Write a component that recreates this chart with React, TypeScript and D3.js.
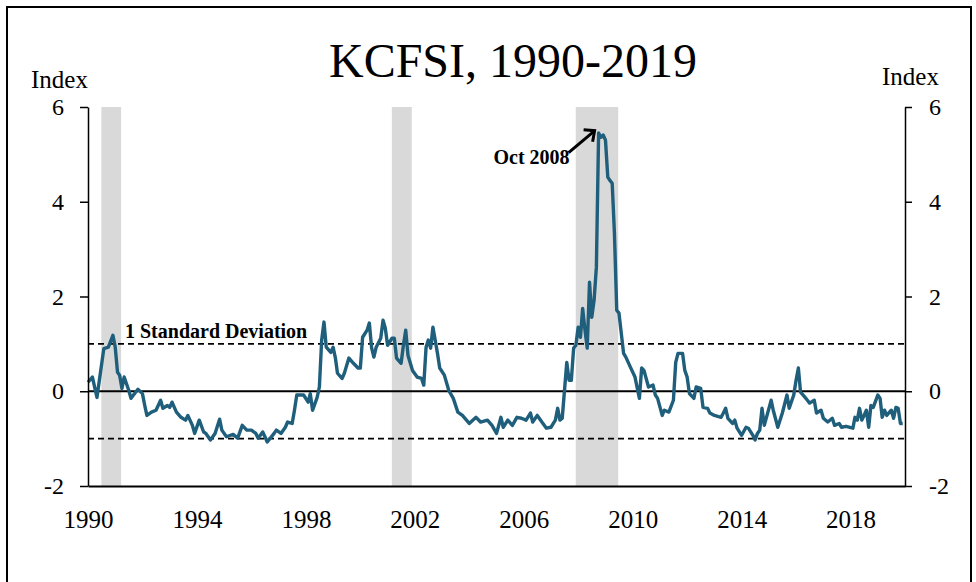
import { useRef, useEffect } from 'react';
import * as d3 from 'd3';

const months = [
  '1990-01', '1990-03', '1990-05', '1990-08', '1990-10', '1990-12', '1991-01', '1991-02', '1991-03', '1991-04',
  '1991-05', '1991-07', '1991-08', '1991-10', '1991-11', '1992-01', '1992-02', '1992-03', '1992-05', '1992-07',
  '1992-09', '1992-10', '1992-12', '1993-01', '1993-02', '1993-04', '1993-06', '1993-08', '1993-09', '1993-11',
  '1993-12', '1994-02', '1994-04', '1994-05', '1994-07', '1994-09', '1994-11', '1994-12', '1995-02', '1995-05',
  '1995-07', '1995-09', '1995-11', '1996-01', '1996-03', '1996-04', '1996-06', '1996-07', '1996-08', '1996-11',
  '1996-12', '1997-02', '1997-04', '1997-05', '1997-07', '1997-08', '1997-09', '1997-12', '1998-02', '1998-03',
  '1998-04', '1998-06', '1998-07', '1998-08', '1998-09', '1998-10', '1998-12', '1999-01', '1999-02', '1999-03',
  '1999-05', '1999-06', '1999-08', '1999-10', '1999-12', '2000-01', '2000-02', '2000-04', '2000-05', '2000-06',
  '2000-07', '2000-08', '2000-10', '2000-11', '2000-12', '2001-01', '2001-03', '2001-04', '2001-05', '2001-07',
  '2001-08', '2001-09', '2001-10', '2001-12', '2002-02', '2002-04', '2002-05', '2002-06', '2002-07', '2002-08',
  '2002-09', '2002-11', '2002-12', '2003-02', '2003-04', '2003-06', '2003-08', '2003-10', '2004-01', '2004-04',
  '2004-06', '2004-09', '2004-11', '2005-01', '2005-03', '2005-04', '2005-06', '2005-08', '2005-10', '2005-12',
  '2006-02', '2006-04', '2006-05', '2006-07', '2006-09', '2006-11', '2007-01', '2007-03', '2007-04', '2007-05',
  '2007-06', '2007-08', '2007-09', '2007-10', '2007-11', '2007-12', '2008-01', '2008-02', '2008-03', '2008-04',
  '2008-05', '2008-06', '2008-07', '2008-08', '2008-09', '2008-10', '2008-11', '2008-12', '2009-01', '2009-02',
  '2009-03', '2009-04', '2009-05', '2009-06', '2009-07', '2009-09', '2009-10', '2009-12', '2010-02', '2010-04',
  '2010-05', '2010-06', '2010-08', '2010-10', '2010-11', '2010-12', '2011-02', '2011-03', '2011-05', '2011-07',
  '2011-08', '2011-09', '2011-11', '2011-12', '2012-01', '2012-02', '2012-04', '2012-05', '2012-07', '2012-08',
  '2012-10', '2012-11', '2013-01', '2013-04', '2013-05', '2013-06', '2013-07', '2013-09', '2013-10', '2013-11',
  '2014-01', '2014-03', '2014-04', '2014-06', '2014-07', '2014-08', '2014-09', '2014-10', '2014-11', '2015-02',
  '2015-03', '2015-05', '2015-07', '2015-09', '2015-10', '2015-12', '2016-01', '2016-02', '2016-03', '2016-05',
  '2016-06', '2016-07', '2016-09', '2016-10', '2016-12', '2017-01', '2017-03', '2017-05', '2017-06', '2017-08',
  '2017-09', '2017-11', '2018-02', '2018-03', '2018-04', '2018-05', '2018-06', '2018-07', '2018-08', '2018-09',
  '2018-10', '2018-11', '2019-01', '2019-02', '2019-03', '2019-04', '2019-05', '2019-07', '2019-08', '2019-09',
  '2019-10', '2019-11', '2019-12',
];

const kcfsi = [
  0.19, 0.30, -0.13, 0.90, 0.93, 1.18, 0.93, 0.40, 0.34, 0.06,
  0.30, 0.02, -0.15, -0.02, 0.04, -0.05, -0.30, -0.51, -0.44, -0.40,
  -0.19, -0.36, -0.30, -0.34, -0.23, -0.44, -0.55, -0.61, -0.51, -0.72,
  -0.89, -0.61, -0.86, -0.89, -1.03, -0.89, -0.59, -0.82, -0.96, -0.91,
  -0.99, -0.72, -0.82, -0.82, -0.89, -0.99, -0.86, -0.96, -1.07, -0.89,
  -0.82, -0.89, -0.76, -0.65, -0.68, -0.40, -0.08, -0.08, -0.23, -0.05,
  -0.40, -0.13, 0.09, 1.08, 1.46, 0.93, 0.82, 0.93, 0.70, 0.38,
  0.27, 0.38, 0.70, 0.59, 0.49, 0.49, 1.14, 1.29, 1.44, 0.91,
  0.72, 0.93, 1.12, 1.50, 1.33, 0.97, 1.12, 1.12, 0.70, 0.59,
  0.97, 1.29, 0.76, 0.44, 0.30, 0.27, 0.13, 0.93, 1.08, 0.91,
  1.35, 0.80, 0.49, 0.34, 0.02, -0.15, -0.44, -0.51, -0.68, -0.55,
  -0.65, -0.61, -0.72, -0.89, -0.55, -0.76, -0.61, -0.72, -0.55, -0.57,
  -0.61, -0.46, -0.65, -0.51, -0.65, -0.78, -0.76, -0.61, -0.36, -0.61,
  -0.57, 0.61, 0.23, 0.23, 0.91, 0.97, 1.35, 1.14, 1.75, 1.29,
  0.91, 2.30, 1.56, 1.92, 2.62, 5.45, 5.36, 5.41, 5.30, 4.52,
  4.45, 4.39, 3.34, 1.71, 1.65, 0.80, 0.72, 0.51, 0.30, -0.15,
  0.49, 0.44, 0.09, 0.13, -0.08, -0.15, -0.51, -0.40, -0.44, -0.19,
  0.61, 0.80, 0.80, 0.44, 0.30, -0.05, -0.15, 0.09, 0.06, -0.34,
  -0.36, -0.46, -0.51, -0.55, -0.46, -0.36, -0.57, -0.68, -0.61, -0.78,
  -0.93, -0.76, -0.78, -0.93, -1.03, -0.89, -0.82, -0.36, -0.72, -0.19,
  -0.40, -0.76, -0.46, -0.08, -0.36, -0.08, 0.23, 0.49, -0.02, -0.13,
  -0.19, -0.25, -0.19, -0.46, -0.40, -0.57, -0.65, -0.57, -0.72, -0.68,
  -0.76, -0.74, -0.78, -0.55, -0.61, -0.36, -0.61, -0.51, -0.40, -0.76,
  -0.30, -0.34, -0.08, -0.15, -0.55, -0.40, -0.51, -0.40, -0.57, -0.34,
  -0.36, -0.68, -0.68,
];

// recessions (first and last month)
const recessionStart = ['1990-07', '2001-03', '2007-12'];
const recessionEnd = ['1991-03', '2001-11', '2009-06'];

const yTicks = [-2, 0, 2, 4, 6];
const xTickYears = [1990, 1994, 1998, 2002, 2006, 2010, 2014, 2018];
const stdDevLines = [1, -1];
const peakMonth = '2008-10';

const FONT = '"Liberation Serif", "Times New Roman", serif';

export default function App() {
  const svgRef = useRef<SVGSVGElement>(null);

  useEffect(() => {
    if (!svgRef.current) return;
    const svg = d3.select(svgRef.current);
    svg.selectAll('*').remove();

    const parseMonth = d3.timeParse('%Y-%m');
    const data = months.map((m, i) => ({ date: parseMonth(m)!, value: kcfsi[i] }));

    const left = 88;
    const right = 905;
    const top = 107;
    const bottom = 486;

    const x = d3.scaleTime()
      .domain([new Date(1990, 0, 1), new Date(2020, 0, 1)])
      .range([left, right]);
    const y = d3.scaleLinear().domain([-2, 6]).range([bottom, top]);

    // outer frame
    svg.append('rect')
      .attr('x', 7).attr('y', 7)
      .attr('width', 964).attr('height', 620)
      .attr('fill', 'none')
      .attr('stroke', '#000')
      .attr('stroke-width', 2);

    // recession bands
    recessionStart.forEach((s, i) => {
      const x0 = x(d3.timeDay.offset(parseMonth(s)!, -2));
      const x1 = x(d3.timeDay.offset(parseMonth(recessionEnd[i])!, 20));
      svg.append('rect')
        .attr('x', x0).attr('y', top)
        .attr('width', x1 - x0).attr('height', bottom - top)
        .attr('fill', '#d9d9d9');
    });

    // +/- 1 std dev
    stdDevLines.forEach((v) => {
      svg.append('line')
        .attr('x1', left).attr('x2', right)
        .attr('y1', y(v)).attr('y2', y(v))
        .attr('stroke', '#000')
        .attr('stroke-width', 1.6)
        .attr('stroke-dasharray', '6,4');
    });

    // zero line
    svg.append('line')
      .attr('x1', left).attr('x2', right)
      .attr('y1', y(0)).attr('y2', y(0))
      .attr('stroke', '#000')
      .attr('stroke-width', 2);

    // series
    const line = d3.line<typeof data[0]>()
      .x((d) => x(d.date))
      .y((d) => y(d.value));

    svg.append('path')
      .datum(data)
      .attr('d', line)
      .attr('fill', 'none')
      .attr('stroke', '#1f5f7c')
      .attr('stroke-width', 3.4)
      .attr('stroke-linejoin', 'round');

    // axes
    const styleAxis = (g: d3.Selection<SVGGElement, unknown, null, undefined>, size: number) => {
      g.attr('font-family', FONT).attr('font-size', size);
      g.selectAll('text').attr('fill', '#000');
      g.selectAll('line').attr('stroke', '#000').attr('stroke-width', 1.5);
      g.select('.domain').attr('stroke', '#000').attr('stroke-width', 1.5);
    };
    const plain = (d: d3.NumberValue) => String(d);

    svg.append('g')
      .attr('transform', `translate(${left},0)`)
      .call(d3.axisLeft(y).tickValues(yTicks).tickSize(8).tickSizeOuter(0).tickPadding(16).tickFormat(plain))
      .call((g) => styleAxis(g, 24));

    svg.append('g')
      .attr('transform', `translate(${right},0)`)
      .call(d3.axisRight(y).tickValues(yTicks).tickSize(7).tickSizeOuter(0).tickPadding(17).tickFormat(plain))
      .call((g) => styleAxis(g, 24));

    svg.append('g')
      .attr('transform', `translate(0,${bottom})`)
      .call(
        d3.axisBottom(x)
          .tickValues(xTickYears.map((yr) => new Date(yr, 0, 1)))
          .tickSize(0)
          .tickSizeOuter(0)
          .tickPadding(24)
          .tickFormat((d) => d3.timeFormat('%Y')(d as Date))
      )
      .call((g) => {
        styleAxis(g, 25);
        g.select('.domain').attr('stroke-width', 2.2);
      });

    // title + axis titles
    svg.append('text')
      .attr('x', 513).attr('y', 77)
      .attr('text-anchor', 'middle')
      .attr('font-family', FONT)
      .attr('font-size', 48)
      .text('KCFSI, 1990-2019');

    svg.append('text')
      .attr('x', 31).attr('y', 88)
      .attr('font-family', FONT)
      .attr('font-size', 25)
      .text('Index');

    svg.append('text')
      .attr('x', 882).attr('y', 85)
      .attr('font-family', FONT)
      .attr('font-size', 25)
      .text('Index');

    // annotations
    svg.append('text')
      .attr('x', left + 37).attr('y', y(1) - 6)
      .attr('font-family', FONT)
      .attr('font-size', 20)
      .attr('font-weight', 'bold')
      .text('1 Standard Deviation');

    const tipX = x(parseMonth(peakMonth)!) - 4;
    const tipY = y(5.5);
    const tailX = tipX - 26;
    const tailY = tipY + 22;
    svg.append('line')
      .attr('x1', tailX).attr('y1', tailY)
      .attr('x2', tipX - 1).attr('y2', tipY + 1)
      .attr('stroke', '#000')
      .attr('stroke-width', 3);
    svg.append('path')
      .attr('d', `M${tipX - 11},${tipY - 1}L${tipX},${tipY}L${tipX - 2},${tipY + 11}`)
      .attr('fill', 'none')
      .attr('stroke', '#000')
      .attr('stroke-width', 3)
      .attr('stroke-linejoin', 'miter');

    svg.append('text')
      .attr('x', tailX + 1).attr('y', tailY + 11)
      .attr('text-anchor', 'end')
      .attr('font-family', FONT)
      .attr('font-size', 20)
      .attr('font-weight', 'bold')
      .text('Oct 2008');
  }, []);

  return (
    <svg
      ref={svgRef}
      width={976}
      height={582}
      viewBox="0 0 976 582"
      style={{ position: 'absolute', left: 0, top: 0, background: '#fff' }}
    />
  );
}
